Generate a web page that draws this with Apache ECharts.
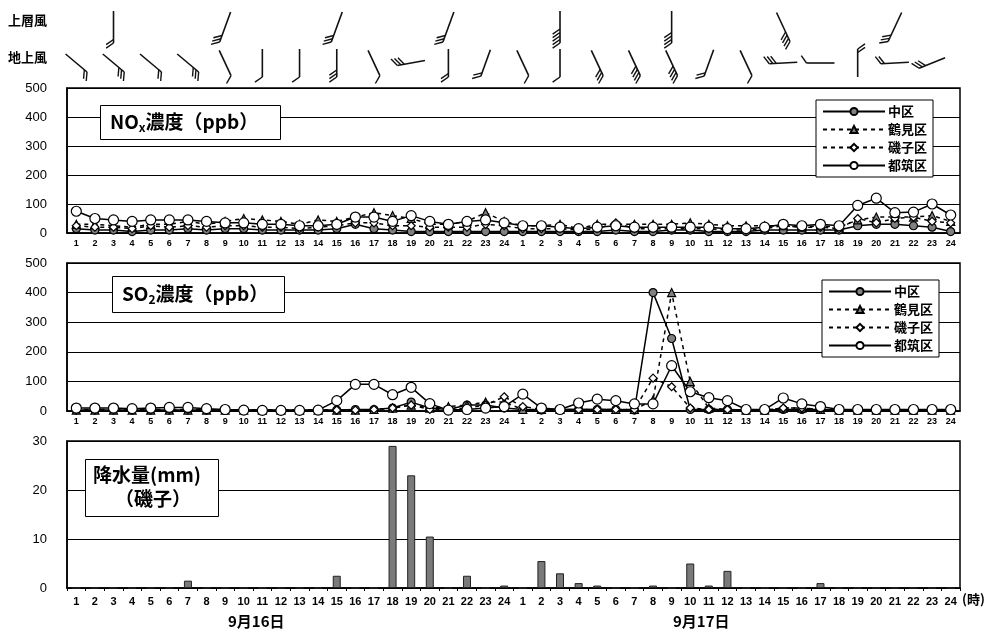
<!DOCTYPE html>
<html><head><meta charset="utf-8">
<script src="https://cdn.jsdelivr.net/npm/echarts@6/dist/echarts.min.js"></script>
<style>html,body{margin:0;padding:0;background:#fff}#c{width:989px;height:637px}</style>
</head><body><div id="c"></div>
<script>
const hours = ['1','2','3','4','5','6','7','8','9','10','11','12','13','14','15','16','17','18','19','20','21','22','23','24',
               '1','2','3','4','5','6','7','8','9','10','11','12','13','14','15','16','17','18','19','20','21','22','23','24'];
const stations = ['中区','鶴見区','磯子区','都筑区'];
const dayLabels = ['9月16日','9月17日'];

const nakaNOx    = [15,10,10,5,10,10,15,10,15,15,10,10,10,10,15,30,15,10,5,5,5,5,5,5, 5,5,5,5,5,10,5,5,10,10,5,5,5,10,10,10,10,10,25,30,30,25,20,5];
const tsurumiNOx = [30,30,25,20,30,30,40,30,40,50,45,40,30,45,40,55,70,60,50,30,30,40,70,40, 25,25,30,15,30,30,30,30,30,35,30,25,25,25,25,20,25,20,45,55,55,55,60,40];
const isogoNOx   = [25,20,20,15,25,20,25,20,25,25,20,20,15,20,25,35,35,25,25,20,20,20,30,25, 15,15,15,10,15,35,15,15,15,15,15,10,10,15,25,20,20,15,50,35,50,55,40,35];
const tsuzukiNOx = [75,50,45,40,45,45,45,40,35,35,30,30,25,25,30,55,55,40,60,40,30,40,45,35, 25,25,20,15,20,25,20,20,20,20,20,15,15,20,30,25,30,25,95,120,70,72,100,62];

const nakaSO2    = [3,3,3,3,3,3,3,3,3,3,3,3,3,3,3,5,5,10,30,10,5,20,20,10, 5,3,5,5,5,5,3,400,245,5,5,5,3,3,5,5,5,3,3,3,3,3,3,3];
const tsurumiSO2 = [3,3,3,3,3,3,3,3,3,3,3,3,3,3,3,3,5,10,20,10,15,20,30,30, 5,5,5,5,5,5,5,37,400,99,10,5,3,3,10,10,5,3,3,3,3,3,3,3];
const isogoSO2   = [5,5,5,5,5,5,5,5,3,3,3,3,3,3,3,3,5,10,20,5,5,10,20,48, 15,5,5,5,5,5,5,111,82,10,5,5,3,3,10,10,5,3,3,3,3,3,3,3];
const tsuzukiSO2 = [10,10,10,8,10,12,12,8,5,3,2,2,2,3,35,90,90,55,80,25,3,5,10,15, 57,10,5,27,40,35,24,24,153,65,45,35,5,5,44,24,15,5,5,5,5,5,5,5];

const rainIsogo  = [0,0,0,0,0,0,1.5,0,0,0,0,0,0,0,2.5,0,0,29,23,10.5,0,2.5,0,0.5, 0,5.5,3,1,0.5,0,0,0.5,0,5,0.5,3.5,0,0,0,0,1,0,0,0,0,0,0,0];

// wind barbs: hour index (0-47), staff angle (screen degrees, tail->tip), number of feathers
const groundHour  = [0,2,4,6,8,10,12,14,16,18,20,22, 24,26,28,30,32,34,36,38,40,42,44,46];
const groundAngle = [-140,-140,-140,-140,-115,-90,-90,-90,-115,-10,-90,-70, -115,-90,-115,-115,-115,-70,-115,-3,0,90,-3,-22];
const groundFeath = [2,3,2,3,1,1,1,3,1,3,2,2, 1,1,3,4,4,2,1,3,1,2,2,3];
const upperHour   = [2,8,14,20,26,32,38,44];
const upperAngle  = [-90,-70,-70,-70,-90,-90,-115,-65];
const upperFeath  = [2,3,3,3,5,4,4,3];

const barbData = [];
groundHour.forEach((h,i)=>barbData.push([h,0,groundAngle[i],groundFeath[i]]));
upperHour.forEach((h,i)=>barbData.push([h,1,upperAngle[i],upperFeath[i]]));

const numFont = 'Liberation Sans, Arial, sans-serif';
const jpFont = '"Noto Sans CJK JP", sans-serif';

function renderBarb(params, api){
  const c = api.coord([api.value(0), api.value(1)]);
  const row = api.value(1);
  const ang = api.value(2)*Math.PI/180;
  const n = api.value(3);
  const L = row === 1 ? 32 : 28;
  const dx = Math.cos(ang), dy = Math.sin(ang);
  const tail = [c[0]-dx*L/2, c[1]-dy*L/2];
  const tip = [c[0]+dx*L/2, c[1]+dy*L/2];
  const fa = ang - 125*Math.PI/180;
  const fx = Math.cos(fa), fy = Math.sin(fa);
  const children = [{type:'line', shape:{x1:tail[0],y1:tail[1],x2:tip[0],y2:tip[1]}, style:{stroke:'#111',lineWidth:1.6}}];
  for(let i=0;i<n;i++){
    const sx = tail[0]+dx*i*3.5, sy = tail[1]+dy*i*3.5;
    children.push({type:'line', shape:{x1:sx,y1:sy,x2:sx+fx*9,y2:sy+fy*9}, style:{stroke:'#111',lineWidth:1.4}});
  }
  return {type:'group', children};
}

const G = [
  {left:67, right:29, top:27, height:36},
  {left:67, right:29, top:88, height:145, show:true, borderColor:'#000', borderWidth:1.5},
  {left:67, right:29, top:263, height:148, show:true, borderColor:'#000', borderWidth:1.5},
  {left:67, right:29, top:441, height:147, show:true, borderColor:'#000', borderWidth:1.5}
];

function xAx(gi){
  return {type:'category', gridIndex:gi, data:hours, boundaryGap:true,
    axisLine:{show:true, lineStyle:{color:'#000', width:1.5}},
    axisTick:{show: gi===3, alignWithLabel:false, length:3, lineStyle:{color:'#000'}},
    axisLabel:{interval:0, fontSize: gi===3 ? 11 : 9, fontWeight:'bold', color:'#000', fontFamily:numFont, margin: gi===3 ? 8 : 6}};
}
function yAx(gi, max, interval){
  return {type:'value', gridIndex:gi, min:0, max:max, interval:interval,
    axisLine:{show:true, lineStyle:{color:'#000', width:1.5}}, axisTick:{show:false},
    splitLine:{show:true, lineStyle:{color:'#000', width:1.2}},
    axisLabel:{fontSize:13, color:'#000', fontFamily:numFont, margin:20}};
}

const styleFor = {
  '中区':   {symbol:'circle', fill:'#808080', dash:'solid'},
  '鶴見区': {symbol:'triangle', fill:'#808080', dash:[4,4]},
  '磯子区': {symbol:'diamond', fill:'#fff', dash:[4,4]},
  '都筑区': {symbol:'circle', fill:'#fff', dash:'solid'}
};
function lineSeries(name, data, gi){
  const s = styleFor[name];
  return {type:'line', name, data, xAxisIndex:gi, yAxisIndex:gi,
    symbol:s.symbol, symbolSize: name==='都筑区' ? 10 : 8,
    lineStyle:{color:'#000', width:1.5, type:s.dash},
    itemStyle:{color:s.fill, borderColor:'#000', borderWidth:1.2},
    animation:false};
}

const legendCommon = {orient:'vertical', data:stations, itemWidth:62, itemHeight:9, itemGap:5,
  borderColor:'#000', borderWidth:1, backgroundColor:'#fff', padding:[5,6,5,6],
  textStyle:{fontSize:13, color:'#000', fontFamily:jpFont, fontWeight:'bold', padding:[0,0,0,-2]}, selectedMode:false};

const titleBox = {borderColor:'#000', borderWidth:1, backgroundColor:'#fff'};

const option = {
  animation:false,
  backgroundColor:'#fff',
  grid:G,
  xAxis:[
    {type:'category', gridIndex:0, data:hours, show:false, boundaryGap:true},
    xAx(1), xAx(2), xAx(3)
  ],
  yAxis:[
    {type:'value', gridIndex:0, min:0, max:1, show:false},
    yAx(1,500,100), yAx(2,500,100), yAx(3,30,10)
  ],
  title:[
    Object.assign({left:100, top:104, padding:[7,22,7,10],
      text:'{a|NO}{s|x}{a|濃度（ppb）}',
      textStyle:{rich:{a:{fontSize:19, fontFamily:jpFont, color:'#000'}, s:{fontSize:12, fontFamily:jpFont, color:'#000', padding:[10,0,0,0]}}}}, titleBox),
    Object.assign({left:112, top:275, padding:[8,16,8,10],
      text:'{a|SO}{s|2}{a|濃度（ppb）}',
      textStyle:{rich:{a:{fontSize:19, fontFamily:jpFont, color:'#000'}, s:{fontSize:12, fontFamily:jpFont, color:'#000', padding:[10,0,0,0]}}}}, titleBox),
    Object.assign({left:85, top:457, padding:[6,18,8,8], textAlign:'left',
      text:'{a|降水量(mm)}\n{b|（磯子）}',
      textStyle:{rich:{a:{fontSize:19, fontFamily:jpFont, color:'#000', lineHeight:24}, b:{fontSize:19, fontFamily:jpFont, color:'#000', lineHeight:24, padding:[0,0,0,22]}}}}, titleBox)
  ],
  legend:[
    Object.assign({left:816, top:100}, legendCommon),
    Object.assign({left:822, top:280}, legendCommon)
  ],
  graphic:[
    {type:'text', left:8, top:14, style:{text:'上層風', fontSize:13, fontWeight:'bold', fontFamily:jpFont, fill:'#000'}},
    {type:'text', left:8, top:51, style:{text:'地上風', fontSize:13, fontWeight:'bold', fontFamily:jpFont, fill:'#000'}},
    {type:'text', left:228, top:614, style:{text:dayLabels[0], fontSize:15, fontWeight:'bold', fontFamily:jpFont, fill:'#000'}},
    {type:'text', left:673, top:614, style:{text:dayLabels[1], fontSize:15, fontWeight:'bold', fontFamily:jpFont, fill:'#000'}},
    {type:'text', left:962, top:593, style:{text:'(時)', fontSize:13, fontWeight:'bold', fontFamily:jpFont, fill:'#000'}}
  ],
  series:[
    {type:'custom', name:'wind', xAxisIndex:0, yAxisIndex:0, data:barbData, renderItem:renderBarb, silent:true},
    lineSeries('中区', nakaNOx, 1),
    lineSeries('鶴見区', tsurumiNOx, 1),
    lineSeries('磯子区', isogoNOx, 1),
    lineSeries('都筑区', tsuzukiNOx, 1),
    lineSeries('中区', nakaSO2, 2),
    lineSeries('鶴見区', tsurumiSO2, 2),
    lineSeries('磯子区', isogoSO2, 2),
    lineSeries('都筑区', tsuzukiSO2, 2),
    {type:'bar', name:'降水量', data:rainIsogo, xAxisIndex:3, yAxisIndex:3, barWidth:8,
     itemStyle:{color:'#7a7a7a', borderColor:'#222', borderWidth:1}}
  ]
};
const chart = echarts.init(document.getElementById('c'), null, {renderer:'canvas'});
chart.setOption(option);
</script>
</body></html>
